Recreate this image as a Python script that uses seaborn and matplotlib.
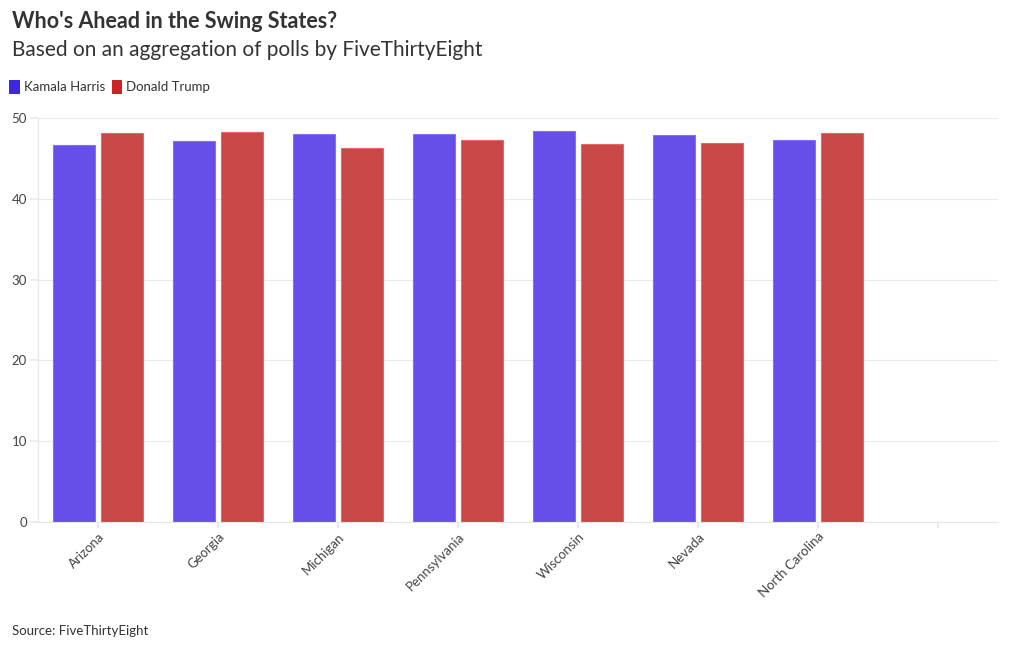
import matplotlib
matplotlib.use("Agg")
import matplotlib.pyplot as plt
import seaborn as sns
import pandas as pd

states = ["Arizona", "Georgia", "Michigan", "Pennsylvania", "Wisconsin", "Nevada", "North Carolina"]
harris = [46.7, 47.2, 48.0, 48.0, 48.4, 47.9, 47.3]
trump = [48.2, 48.3, 46.3, 47.3, 46.8, 46.9, 48.1]
series = ["Kamala Harris", "Donald Trump"]
yticks = [0, 10, 20, 30, 40, 50]

df = pd.DataFrame({
    "State": states * 2,
    "Candidate": [series[0]] * len(states) + [series[1]] * len(states),
    "Value": harris + trump,
})

sns.set_theme(style="white")
plt.rcParams["font.family"] = ["Lato", "DejaVu Sans"]

fig = plt.figure(figsize=(10.2, 6.5), dpi=100)
ax = fig.add_axes([38 / 1020, 1 - 522 / 650, (998 - 38) / 1020, (522 - 118) / 650])

palette = {"Kamala Harris": "#654FE8", "Donald Trump": "#C84848"}
order = states + [" "]
sns.barplot(data=df, x="State", y="Value", hue="Candidate", order=order,
            hue_order=series, palette=palette, width=0.8, gap=0.125,
            saturation=1, ax=ax, errorbar=None, legend=False)

for i, p in enumerate(ax.patches):
    fc = p.get_facecolor()
    light = tuple(min(1, c + 0.12) for c in fc[:3])
    p.set_edgecolor(light)
    p.set_linewidth(0.8)

ax.set_xlim(-0.5, len(order) - 0.5)
ax.set_ylim(0, 50)
ax.set_yticks(yticks)
ax.set_yticklabels([str(v) for v in yticks], fontsize=9.5, color="#444444")
ax.set_xticks(range(len(order)))
ax.set_xticklabels(order, rotation=45, ha="right", rotation_mode="anchor",
                   fontsize=9.5, color="#444444")
ax.set_xlabel("")
ax.set_ylabel("")
ax.grid(axis="y", color="#EBEBEB", linewidth=0.8)
ax.set_axisbelow(True)
for s in ["top", "right"]:
    ax.spines[s].set_visible(False)
ax.spines["left"].set_color("#E6E6E6")
ax.spines["bottom"].set_color("#E6E6E6")
ax.spines["left"].set_linewidth(0.8)
ax.spines["bottom"].set_linewidth(0.8)
ax.tick_params(axis="x", bottom=True, length=4, color="#E6E6E6", pad=2)
ax.tick_params(axis="y", left=True, length=6, color="#EBEBEB", pad=2)

fig.text(12 / 1020, 1 - 21 / 650, "Who's Ahead in the Swing States?", fontsize=15.5,
         fontweight="bold", color="#333333", va="center", ha="left")
fig.text(12 / 1020, 1 - 50 / 650, "Based on an aggregation of polls by FiveThirtyEight",
         fontsize=15, color="#333333", va="center", ha="left")
fig.text(12 / 1020, 1 - 631 / 650, "Source: FiveThirtyEight", fontsize=9.5,
         color="#333333", va="center", ha="left")

from matplotlib.patches import Patch
handles = [Patch(facecolor="#3C28E0", edgecolor="none"), Patch(facecolor="#C82525", edgecolor="none")]
leg = fig.legend(handles, series, loc="center left", bbox_to_anchor=(4 / 1020, 1 - 87 / 650),
                 ncol=2, frameon=False, fontsize=9.5, handlelength=0.8, handleheight=1.2,
                 handletextpad=0.3, columnspacing=0.5, borderaxespad=0)
for t in leg.get_texts():
    t.set_color("#333333")

fig.savefig("out.png", dpi=100)
